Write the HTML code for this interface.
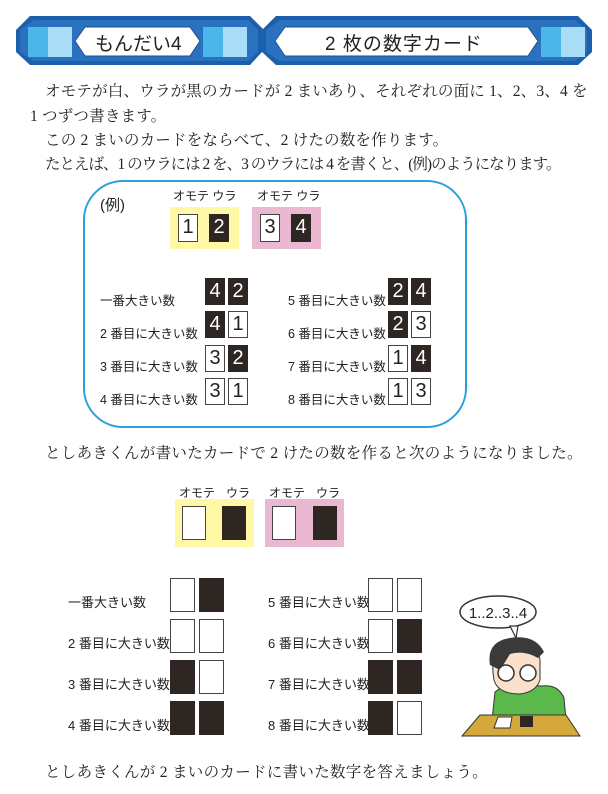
<!DOCTYPE html>
<html><head><meta charset="utf-8"><style>
body{margin:0;width:608px;height:794px;background:#fff;position:relative;overflow:hidden;font-family:"Liberation Serif","Noto Serif CJK JP",serif;color:#222}
.a{position:absolute;white-space:nowrap}
.t{font-size:15.5px;letter-spacing:0.2px}
.u{font-size:15.5px;letter-spacing:0.3px}
.g{font-family:"Liberation Sans","Noto Sans CJK JP",sans-serif}
.c{position:absolute;box-sizing:border-box;border:1.5px solid #444;background:#fff;font-family:"Liberation Sans","Noto Sans CJK JP",sans-serif;font-size:20px;text-align:center;color:#222}
.k{background:#2e2623;color:#fff;border-color:#2e2623}
.l{font-size:12px}
.r1{font-size:12.5px;line-height:33px}
.r2{font-size:13px;line-height:41px}
</style></head><body>
<svg class="a" style="left:0;top:0" width="608" height="75">
<polygon points="30,16 250,16 264,30 262,52 250,65 30,65 16,52 16,30" fill="#1c5fab"/>
<polygon points="276,16 578,16 592,30 592,52 578,65 276,65 262,52 262,30" fill="#1c5fab"/>
<polygon points="34,20 248,20 258,30 258,52 248,61 34,61 20,52 20,30" fill="#2a72c0"/>
<polygon points="280,20 575,20 587,30 587,52 575,61 280,61 266,52 266,30" fill="#2a72c0"/>
<polygon points="85,27 190,27 200,41 190,56 85,56 75,41" fill="#fff" stroke="#1a4f90"/>
<polygon points="285,27 528,27 538,41 528,56 285,56 275,41" fill="#fff" stroke="#1a4f90"/>
<g id="cb"><rect x="28" y="27" width="44" height="30" fill="#3fb0e8"/><polygon points="48,27 72,27 72,57 48,57" fill="#a9dcf6"/><polygon points="28,27 48,27 48,57 28,57" fill="#4ab6ea"/></g>
<use href="#cb" x="175"/><use href="#cb" x="513"/>
</svg>
<div class="a g" style="left:95px;top:29px;font-size:19px">もんだい4</div>
<div class="a g" style="left:325px;top:29px;font-size:19px;letter-spacing:1px">2 枚の数字カード</div>
<div class="a t" style="left:45px;top:79px">オモテが白、ウラが黒のカードが 2 まいあり、それぞれの面に 1、2、3、4 を</div>
<div class="a t" style="left:30px;top:104px">1 つずつ書きます。</div>
<div class="a t" style="left:45px;top:128px">この 2 まいのカードをならべて、2 けたの数を作ります。</div>
<div class="a t" style="left:45px;top:152px;letter-spacing:-1px">たとえば、1 のウラには 2 を、3 のウラには 4 を書くと、(例)のようになります。</div>
<div class="a" style="left:83px;top:180px;width:384px;height:248px;box-sizing:border-box;border:2px solid #2aa0dc;border-radius:40px"></div>
<div class="a g" style="left:100px;top:194px;font-size:15px">(例)</div>
<div class="a g l" style="left:173px;top:187px">オモテ ウラ</div>
<div class="a g l" style="left:257px;top:187px">オモテ ウラ</div>
<div class="a" style="left:170px;top:207px;width:69px;height:42px;background:#fff9a6"></div>
<div class="a" style="left:252px;top:207px;width:69px;height:42px;background:#ebb8d2"></div>
<div class="c" style="left:178px;top:214px;width:20px;height:28px;line-height:25px">1</div>
<div class="c k" style="left:209px;top:214px;width:20px;height:28px;line-height:25px">2</div>
<div class="c" style="left:260px;top:214px;width:20px;height:28px;line-height:25px">3</div>
<div class="c k" style="left:291px;top:214px;width:20px;height:28px;line-height:25px">4</div>
<div class="a g r1" style="left:100px;top:285px">一番大きい数<br>2 番目に大きい数<br>3 番目に大きい数<br>4 番目に大きい数</div>
<div class="a g r1" style="left:288px;top:285px">5 番目に大きい数<br>6 番目に大きい数<br>7 番目に大きい数<br>8 番目に大きい数</div>
<div class="c k" style="left:205px;top:278px;width:20px;height:27px;line-height:25px">4</div><div class="c k" style="left:228px;top:278px;width:20px;height:27px;line-height:25px">2</div>
<div class="c k" style="left:205px;top:311px;width:20px;height:27px;line-height:25px">4</div><div class="c" style="left:228px;top:311px;width:20px;height:27px;line-height:25px">1</div>
<div class="c" style="left:205px;top:345px;width:20px;height:27px;line-height:25px">3</div><div class="c k" style="left:228px;top:345px;width:20px;height:27px;line-height:25px">2</div>
<div class="c" style="left:205px;top:378px;width:20px;height:27px;line-height:25px">3</div><div class="c" style="left:228px;top:378px;width:20px;height:27px;line-height:25px">1</div>
<div class="c k" style="left:388px;top:278px;width:20px;height:27px;line-height:25px">2</div><div class="c k" style="left:411px;top:278px;width:20px;height:27px;line-height:25px">4</div>
<div class="c k" style="left:388px;top:311px;width:20px;height:27px;line-height:25px">2</div><div class="c" style="left:411px;top:311px;width:20px;height:27px;line-height:25px">3</div>
<div class="c" style="left:388px;top:345px;width:20px;height:27px;line-height:25px">1</div><div class="c k" style="left:411px;top:345px;width:20px;height:27px;line-height:25px">4</div>
<div class="c" style="left:388px;top:378px;width:20px;height:27px;line-height:25px">1</div><div class="c" style="left:411px;top:378px;width:20px;height:27px;line-height:25px">3</div>
<div class="a u" style="left:45px;top:441px">としあきくんが書いたカードで 2 けたの数を作ると次のようになりました。</div>
<div class="a g l" style="left:179px;top:484px">オモテ</div><div class="a g l" style="left:226px;top:484px">ウラ</div>
<div class="a g l" style="left:269px;top:484px">オモテ</div><div class="a g l" style="left:316px;top:484px">ウラ</div>
<div class="a" style="left:175px;top:499px;width:79px;height:48px;background:#fff9a6"></div>
<div class="a" style="left:265px;top:499px;width:79px;height:48px;background:#ebb8d2"></div>
<div class="c" style="left:182px;top:506px;width:24px;height:34px"></div><div class="c k" style="left:222px;top:506px;width:24px;height:34px"></div>
<div class="c" style="left:272px;top:506px;width:24px;height:34px"></div><div class="c k" style="left:313px;top:506px;width:24px;height:34px"></div>
<div class="a g r2" style="left:68px;top:582px">一番大きい数<br>2 番目に大きい数<br>3 番目に大きい数<br>4 番目に大きい数</div>
<div class="a g r2" style="left:268px;top:582px">5 番目に大きい数<br>6 番目に大きい数<br>7 番目に大きい数<br>8 番目に大きい数</div>
<div class="c" style="left:170px;top:578px;width:25px;height:34px"></div><div class="c k" style="left:199px;top:578px;width:25px;height:34px"></div>
<div class="c" style="left:170px;top:619px;width:25px;height:34px"></div><div class="c" style="left:199px;top:619px;width:25px;height:34px"></div>
<div class="c k" style="left:170px;top:660px;width:25px;height:34px"></div><div class="c" style="left:199px;top:660px;width:25px;height:34px"></div>
<div class="c k" style="left:170px;top:701px;width:25px;height:34px"></div><div class="c k" style="left:199px;top:701px;width:25px;height:34px"></div>
<div class="c" style="left:368px;top:578px;width:25px;height:34px"></div><div class="c" style="left:397px;top:578px;width:25px;height:34px"></div>
<div class="c" style="left:368px;top:619px;width:25px;height:34px"></div><div class="c k" style="left:397px;top:619px;width:25px;height:34px"></div>
<div class="c k" style="left:368px;top:660px;width:25px;height:34px"></div><div class="c k" style="left:397px;top:660px;width:25px;height:34px"></div>
<div class="c k" style="left:368px;top:701px;width:25px;height:34px"></div><div class="c" style="left:397px;top:701px;width:25px;height:34px"></div>
<svg class="a" style="left:440px;top:580px" width="168" height="180">
<ellipse cx="58" cy="32" rx="38" ry="16" fill="#fff" stroke="#333" stroke-width="1.5"/>
<polygon points="70,46 76,58 78,46" fill="#fff" stroke="#333" stroke-width="1.2"/>
<text x="58" y="38" font-family="Liberation Sans, sans-serif" font-size="15" text-anchor="middle" fill="#222">1..2..3..4</text>
<path d="M52,140 L55,112 Q70,100 80,105 L102,106 Q118,104 124,118 L126,140 Z" fill="#5bb84a" stroke="#333"/>
<path d="M54,100 Q48,68 72,60 Q98,58 100,80 L100,100 Q96,112 80,114 Q58,114 54,100Z" fill="#fbe1cc" stroke="#333"/>
<path d="M50,85 Q46,62 70,58 Q95,54 104,72 L98,78 Q84,70 70,74 L60,90Z" fill="#3a3a3a"/>
<circle cx="66" cy="93" r="8" fill="#fff" stroke="#333" stroke-width="1.5"/><circle cx="88" cy="93" r="8" fill="#fff" stroke="#333" stroke-width="1.5"/>
<polygon points="22,156 40,135 126,135 140,156" fill="#d4a83a" stroke="#333"/>
<polygon points="54,148 58,137 72,137 70,148" fill="#fff" stroke="#333"/>
<rect x="80" y="136" width="13" height="11" fill="#2e2623"/>
</svg>
<div class="a u" style="left:45px;top:760px">としあきくんが 2 まいのカードに書いた数字を答えましょう。</div>
</body></html>
